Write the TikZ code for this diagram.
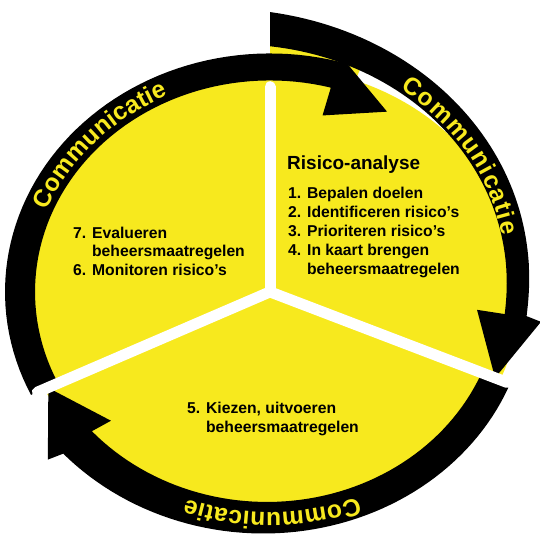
\documentclass[tikz,border=0pt]{standalone}
\usepackage{fontspec}
\setmainfont{Liberation Sans}
\usetikzlibrary{decorations.text}
\definecolor{diskyellow}{RGB}{247,233,30}
\newcommand{\commfont}{\fontsize{21pt}{23pt}\selectfont\bfseries}
\newcommand{\listfont}{\fontsize{13.4pt}{16.2pt}\selectfont\bfseries}
\newcommand{\headfont}{\fontsize{16.2pt}{19pt}\selectfont\bfseries}

\begin{document}
\begin{tikzpicture}[x=0.03cm,y=0.027cm,
	band/.style={fill=black},
	divider/.style={white,line width=0.33cm,line cap=round},
	comm/.style={font=\commfont,decorate,decoration={text along path,text={|\commfont|Communicatie},text color=diskyellow,text align={fit to path}}},
	block/.style={anchor=west,inner sep=0pt,font=\listfont,align=left}]
				
				\useasboundingbox (-270,-275.6) rectangle (270,324.4);
				
				\fill[diskyellow] (0,0) circle (250);
				\fill[diskyellow] (0,0) -- (90:280) -- (80:282) -- (70:276) -- cycle;
				\draw[divider] (0,0) -- (90:228);
				
				% three arrows
				\fill[band] plot[domain=205.6:75,samples=60] (\x:265)
					-- (75:272) -- (59.7:232) -- (75:203)
					-- plot[domain=75:205.6,samples=60] (\x:235) -- cycle;
				\fill[band] plot[domain=90:-6,samples=60] (\x:{258+53*((\x+6.01)/96)^1.5})
					-- (-7:273) -- (-23:244.5) -- (-5.5:208)
					-- plot[domain=-6:90,samples=60] (\x:{236+37*((\x+6.01)/96)^1.5}) -- cycle;
				\fill[band] plot[domain=336:221,samples=60] (\x:{274-13*(\x-221)/115})
					-- (220:290) -- (205.7:246) -- (222:214)
					-- plot[domain=221:336,samples=60] (\x:{236-6*(\x-221)/115}) -- cycle;
				
				\draw[divider] (0,0) -- (205.6:258);
				\draw[divider] (0,0) -- (337:258);
				
				\path[comm] plot[domain=158:115,samples=50] (\x:241);
				\path[comm] plot[domain=60:15,samples=50] (\x:{240+(\x-15)*0.45});
				\path[comm] plot[domain=291:250,samples=50] (\x:245);
				
				\node[block,font=\headfont] (RA) at (17,142) {Risico-analyse};
				\node[block] (T14) at (18,65.6) {\begin{tabular}{@{}l@{ }l@{}}
						1. & Bepalen doelen\\
						2. & Identificeren risico’s\\
						3. & Prioriteren risico’s\\
						4. & In kaart brengen\\
						& beheersmaatregelen
					\end{tabular}};
				\node[block] (T76) at (-197,43) {\begin{tabular}{@{}l@{ }l@{}}
						7. & Evalueren\\
						& beheersmaatregelen\\
						6. & Monitoren risico’s
					\end{tabular}};
				\node[block] (T5) at (-83,-141) {\begin{tabular}{@{}l@{ }l@{}}
						5. & Kiezen, uitvoeren\\
						& beheersmaatregelen
					\end{tabular}};
				
			\end{tikzpicture}
\end{document}
